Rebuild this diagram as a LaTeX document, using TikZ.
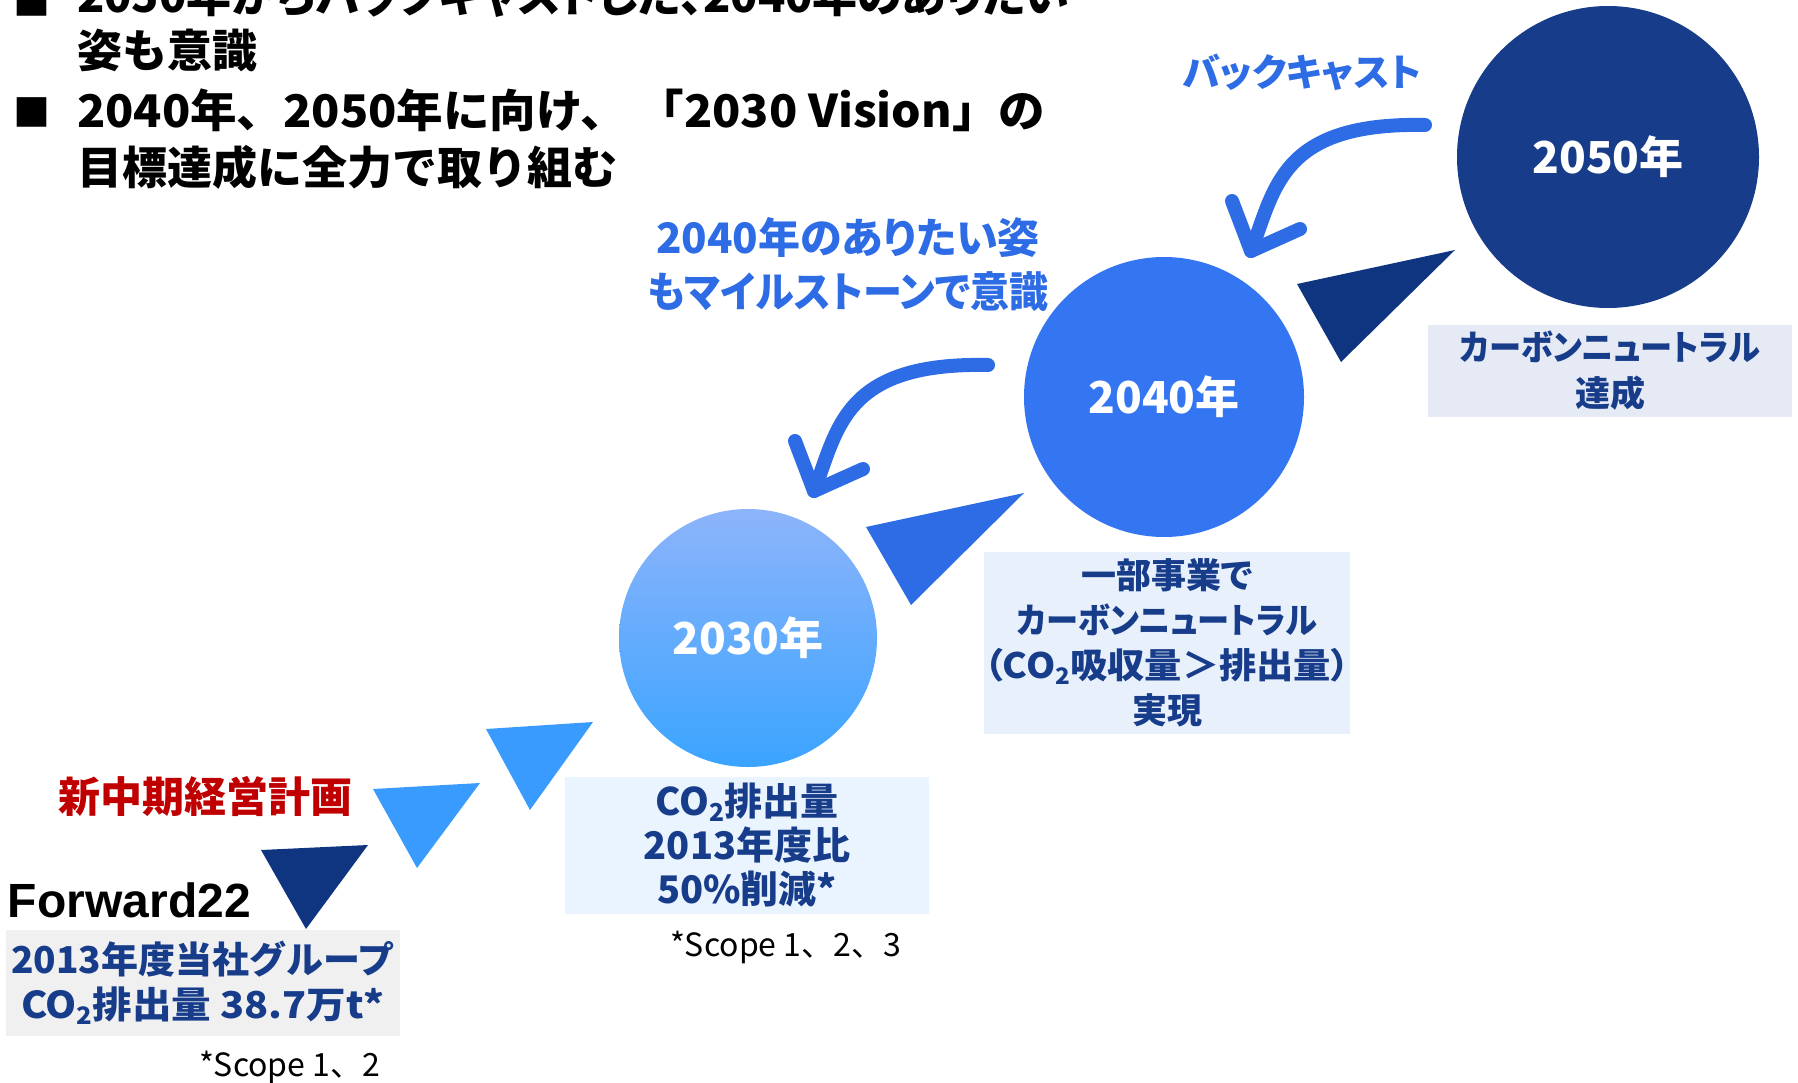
\documentclass[tikz,border=0pt]{standalone}
\usepackage{fontspec}
\setmainfont{Noto Sans CJK JP}
\newfontfamily\jpp{Noto Sans CJK JP}[RawFeature=+palt]
\newfontfamily\latinb{Liberation Sans}
\usetikzlibrary{calc}
\definecolor{navy}{RGB}{16,53,128}
\definecolor{navyc}{RGB}{23,60,138}
\definecolor{skyb}{RGB}{56,155,253}
\definecolor{midb}{RGB}{45,108,229}
\definecolor{blueforty}{RGB}{52,117,242}
\definecolor{ctop}{RGB}{141,180,251}
\definecolor{cbot}{RGB}{58,164,255}
\definecolor{boxtext}{RGB}{23,60,138}
\definecolor{redt}{RGB}{192,0,0}
\definecolor{bxa}{RGB}{240,240,240}
\definecolor{bxb}{RGB}{234,244,254}
\definecolor{bxc}{RGB}{232,240,252}
\definecolor{bxd}{RGB}{230,234,244}
\newcommand\sbtwo{\raisebox{-0.3ex}{\scalebox{0.65}{2}}}
\newcommand\fsz[2]{\fontsize{#1}{#2}\selectfont}
\newcommand\hsc[2]{\scalebox{#1}[1]{#2}}
\begin{document}
\begin{tikzpicture}[x=1pt,y=-1pt,
  every node/.style={inner sep=0pt, outer sep=0pt},
  circ/.style={circle, text=white, font=\bfseries\fsz{44}{50}},
  infobox/.style={rectangle, align=center, text=boxtext},
  headline/.style={anchor=base west, font=\bfseries\fsz{45}{56}, text=black},
  bulletmark/.style={anchor=base west, font=\fsz{37}{44}, text=black},
  bkarrow/.style={draw=midb, line width=14pt, line cap=round, line join=round},
  bluelabel/.style={text=midb, align=center}]
\useasboundingbox (0,0) rectangle (1798,1083);
\clip (0,0) rectangle (1798,1083);

% headline bullets and text
\node[bulletmark] (h1b) at (13,16) {■};
\node[headline] (h1) at (77,13) {\jpp 2050年からバックキャストした、2040年のありたい};
\node[headline] (h2) at (77,68) {姿も意識};
\node[bulletmark] (h3b) at (13,127) {■};
\node[headline] (h3) at (77,128) {\hsc{1.034}{2040年、2050年に向け、 「2030 Vision」の}};
\node[headline] (h4) at (77,185) {目標達成に全力で取り組む};

% triangles
\fill[navy] (261,850) -- (368,845) -- (306,929) -- cycle;
\fill[skyb] (373,789) -- (480,783) -- (417,868) -- cycle;
\fill[skyb] (486,729) -- (593,722) -- (530,810) -- cycle;
\fill[midb] (866,527) -- (1024,493) -- (911,605) -- cycle;
\fill[navy] (1297,284) -- (1455,250) -- (1341,362) -- cycle;

% circles
\node[circ, fill=navyc, minimum size=302pt] (c50) at (1608,157) {2050年};
\node[circ, fill=blueforty, minimum size=280pt] (c40) at (1164,397) {2040年};
\node[circ, top color=ctop, bottom color=cbot, minimum size=258pt] (c30) at (748,638) {2030年};

% boxes
\node[infobox, fill=bxd, minimum width=364pt, minimum height=92pt, font=\jpp\bfseries\fsz{35}{46}] (b50) at (1610,371) {\hsc{0.92}{カーボンニュートラル}\\達成};
\node[infobox, fill=bxc, minimum width=363pt, minimum height=182pt, font=\jpp\bfseries\fsz{35}{45}] (b40) at (1167,643) {一部事業で\\\hsc{0.92}{カーボンニュートラル}\\\hsc{1.065}{（CO\sbtwo 吸収量＞排出量）}\\実現};
\node[infobox, fill=bxb, minimum width=364pt, minimum height=137pt, font=\bfseries\fsz{38}{44}] (b30) at (747,845) {CO\sbtwo 排出量\\2013年度比\\50\%削減*};
\node[infobox, fill=bxa, minimum width=394pt, minimum height=106pt, font=\bfseries\fsz{37}{45}] (b13) at (203,983) {2013年度当社グループ\\\hsc{1.07}{CO\sbtwo 排出量 38.7万t*}};

% notes
\node[anchor=base west, font=\fsz{32}{38}] (n30) at (670,956) {*Scope 1、2、3};
\node[anchor=base west, font=\fsz{32}{38}] (n13) at (199,1076) {*Scope 1、2};

% labels
\node[anchor=base west, font=\latinb\bfseries\fsz{48}{56}] (fw) at (8,917) {Forward22};
\node[text=redt, font=\bfseries\fsz{42}{50}] (plan) at (205,796) {新中期経営計画};
\node[bluelabel, font=\jpp\bfseries\fsz{38}{46}] (bc) at (1302,72) {バックキャスト};
\node[bluelabel, font=\jpp\bfseries\fsz{42}{54}] (ms) at (848,265) {2040年のありたい姿\\\hsc{0.93}{もマイルストーンで意識}};

% backcast arrows
\coordinate (a1s) at (1425,125);
\coordinate (a1t) at (1251,251);
\draw[bkarrow] (a1s) .. controls +(-145,-3) and +(24,-62) .. (a1t);
\draw[bkarrow] ($(a1t)+(-19,-50)$) -- (a1t) -- ($(a1t)+(49,-22)$);
\coordinate (a2s) at (988,365);
\coordinate (a2t) at (814,491);
\draw[bkarrow] (a2s) .. controls +(-145,-3) and +(24,-62) .. (a2t);
\draw[bkarrow] ($(a2t)+(-19,-50)$) -- (a2t) -- ($(a2t)+(49,-22)$);
\end{tikzpicture}
\end{document}
